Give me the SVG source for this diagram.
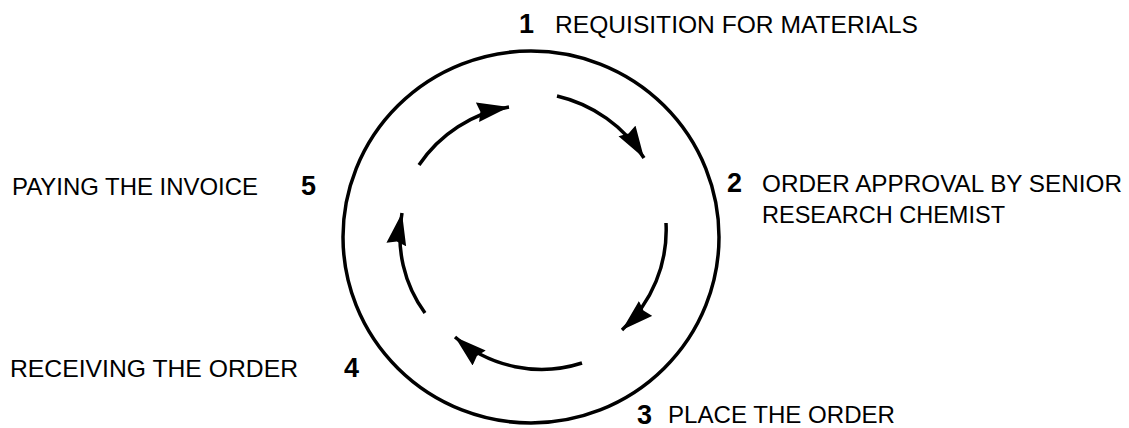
<svg xmlns="http://www.w3.org/2000/svg" width="1129" height="428" viewBox="0 0 1129 428">
<style>
.lbl{font-family:"Liberation Sans",Arial,sans-serif;font-size:24px;fill:#000}
.num{font-family:"Liberation Sans",Arial,sans-serif;font-size:27px;font-weight:bold;fill:#000}
.arc{fill:none;stroke:#000;stroke-width:3.5}
</style>
<defs>
<marker id="ah" markerUnits="userSpaceOnUse" markerWidth="36" markerHeight="22" refX="32" refY="10" orient="auto">
<path d="M0,0 L32,10 L0,20 L3,10 z" fill="#000"/>
</marker>
</defs>
<rect width="1129" height="428" fill="#fff"/>
<g id="cycle">
<ellipse cx="531" cy="237" rx="188" ry="186" fill="none" stroke="#000" stroke-width="3.5"/>
</g>
<g id="connectors">
<path class="arc" d="M419,165 A135,135 0 0 1 509,107" marker-end="url(#ah)"/>
<path class="arc" d="M557,96 A140,140 0 0 1 644,158" marker-end="url(#ah)"/>
<path class="arc" d="M666,223 A135,135 0 0 1 622,330" marker-end="url(#ah)"/>
<path class="arc" d="M582,363 A132,132 0 0 1 455,337" marker-end="url(#ah)"/>
<path class="arc" d="M425,313 A130,130 0 0 1 402,213" marker-end="url(#ah)"/>
</g>
<g id="step1">
<text class="num" x="519" y="33">1</text>
<text class="lbl" x="555" y="33" textLength="363" lengthAdjust="spacingAndGlyphs">REQUISITION FOR MATERIALS</text>
</g>
<g id="step2">
<text class="num" x="727" y="192">2</text>
<text class="lbl" x="762" y="192" textLength="360" lengthAdjust="spacingAndGlyphs">ORDER APPROVAL BY SENIOR</text>
<text class="lbl" x="762" y="223" textLength="243" lengthAdjust="spacingAndGlyphs">RESEARCH CHEMIST</text>
</g>
<g id="step3">
<text class="num" x="637" y="424">3</text>
<text class="lbl" x="668" y="423" textLength="227" lengthAdjust="spacingAndGlyphs">PLACE THE ORDER</text>
</g>
<g id="step4">
<text class="num" x="344" y="377">4</text>
<text class="lbl" x="10" y="377" textLength="288" lengthAdjust="spacingAndGlyphs">RECEIVING THE ORDER</text>
</g>
<g id="step5">
<text class="num" x="301" y="195">5</text>
<text class="lbl" x="12" y="195" textLength="246" lengthAdjust="spacingAndGlyphs">PAYING THE INVOICE</text>
</g>
</svg>
